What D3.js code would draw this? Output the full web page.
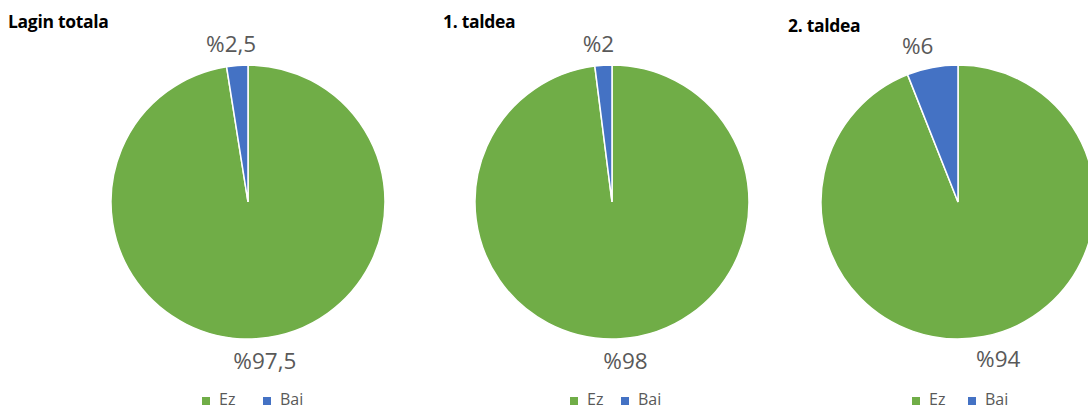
<!DOCTYPE html>
<html>
<head>
<meta charset="utf-8">
<script src="https://cdn.jsdelivr.net/npm/d3@7"></script>
<style>
  html, body { margin: 0; padding: 0; background: #fff; }
  svg { display: block; font-family: "Open Sans", "Noto Sans", sans-serif; }
</style>
</head>
<body>
<svg id="chart" width="1088" height="412"></svg>
<script>
// Answer categories and their colours
const categories = ["Ez", "Bai"];
const colors = ["#70AD47", "#4472C4"];

// One pie per group
const titles = ["Lagin totala", "1. taldea", "2. taldea"];
const ezValues = [97.5, 98, 94];
const baiValues = [2.5, 2, 6];

// Layout of each panel
const centersX = [248, 612, 958];
const titleX = [8, 443, 788];
const titleY = [28, 28, 32];
const legendX = [202, 570, 912];
const legendStep = [61, 51, 56];
const centerY = 202;
const radius = 137;
// Labels sit outside the slice ends, on a wider ellipse horizontally
const labelRx = 215;
const labelRy = 159;

const svg = d3.select("#chart");
const color = d3.scaleOrdinal().domain(categories).range(colors);
const pie = d3.pie().sort(null).value(d => d.value);
const arc = d3.arc().innerRadius(0).outerRadius(radius);
const fmt = v => "%" + String(v).replace(".", ",");

titles.forEach((title, i) => {
  const data = [
    { cat: categories[0], value: ezValues[i] },
    { cat: categories[1], value: baiValues[i] }
  ];
  const g = svg.append("g");

  g.append("text")
    .attr("x", titleX[i]).attr("y", titleY[i])
    .attr("font-size", 17.5).attr("font-weight", 700)
    .attr("letter-spacing", -0.3)
    .attr("fill", "#000")
    .text(title);

  const pg = g.append("g").attr("transform", `translate(${centersX[i]},${centerY})`);
  const arcs = pie(data);

  pg.selectAll("path").data(arcs).join("path")
    .attr("d", arc)
    .attr("fill", d => color(d.data.cat))
    .attr("stroke", "#fff")
    .attr("stroke-width", 1.5);

  pg.selectAll("text.lbl").data(arcs).join("text")
    .attr("class", "lbl")
    .attr("transform", d => {
      const a = (d.startAngle + d.endAngle) / 2;
      return `translate(${labelRx * Math.sin(a)},${-labelRy * Math.cos(a)})`;
    })
    .attr("text-anchor", "middle")
    .attr("dominant-baseline", "central")
    .attr("font-size", 22.5)
    .attr("fill", "#595959")
    .text(d => fmt(d.data.value));

  // Legend
  const lg = g.append("g").attr("transform", `translate(${legendX[i]},399)`);
  const items = lg.selectAll("g").data(categories).join("g")
    .attr("transform", (d, j) => `translate(${j * legendStep[i]},0)`);
  items.append("rect")
    .attr("x", 0).attr("y", -2).attr("width", 8).attr("height", 8)
    .attr("fill", d => color(d));
  items.append("text")
    .attr("x", 17).attr("y", 6)
    .attr("font-size", 16)
    .attr("fill", "#595959")
    .text(d => d);
});
</script>
</body>
</html>
